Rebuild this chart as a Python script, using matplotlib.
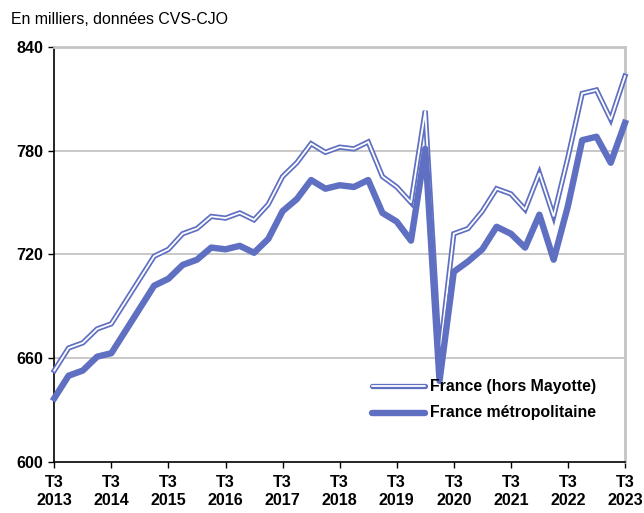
import matplotlib
matplotlib.use("Agg")
import matplotlib.pyplot as plt
from matplotlib.lines import Line2D

plt.rcParams['font.family'] = ['Liberation Sans', 'DejaVu Sans']

quarters = list(range(41))  # T3 2013 .. T3 2023
france_hors_mayotte = [653, 666, 669, 677, 680, 693, 706, 719, 723, 732, 735, 742, 741, 744, 740, 749,
                       765, 773, 784, 779, 782, 781, 785, 765, 759, 750, 803, 661, 732, 735, 745, 758,
                       755, 746, 767, 742, 776, 813, 815, 798, 823]
france_metro = [637, 650, 653, 661, 663, 676, 689, 702, 706, 714, 717, 724, 723, 725, 721, 729,
                745, 752, 763, 758, 760, 759, 763, 744, 739, 728, 781, 647, 710, 716, 723, 736,
                732, 724, 743, 717, 748, 786, 788, 773, 796]
tick_labels = [f"T3\n{y}" for y in range(2013, 2024)]
y_ticks = [600, 660, 720, 780, 840]
color = '#5F6FC1'

fig = plt.figure(figsize=(6.44, 5.13), dpi=100)
ax = fig.add_axes([0.0843, 0.0988, 0.8862, 0.8102])

ax.set_xlim(0, 40)
ax.set_ylim(600, 840)
ax.set_yticks(y_ticks)
ax.set_yticklabels([str(v) for v in y_ticks], fontsize=11.6, fontweight='bold')
ax.set_xticks(range(0, 41, 4))
ax.set_xticklabels(tick_labels, fontsize=11.6, fontweight='bold', linespacing=1.25)
ax.tick_params(axis='both', direction='out', length=4, width=1, color='black')
ax.tick_params(axis='x', pad=5)
ax.tick_params(axis='y', pad=4)

for v in [660, 720, 780]:
    ax.axhline(v, color='#C4C4C4', lw=1.3, zorder=0)
for s in ['top', 'right']:
    ax.spines[s].set_color('#C4C4C4')
    ax.spines[s].set_linewidth(2)
for s in ['left', 'bottom']:
    ax.spines[s].set_color('black')
    ax.spines[s].set_linewidth(1.2)

# double line (France hors Mayotte)
ax.plot(quarters, france_hors_mayotte, color=color, lw=3.8, solid_joinstyle='miter', zorder=3, clip_on=False)
ax.plot(quarters, france_hors_mayotte, color='white', lw=1.3, solid_joinstyle='miter', zorder=4, clip_on=False)
# thick line (France metropolitaine)
ax.plot(quarters, france_metro, color=color, lw=4.6, solid_joinstyle='round', zorder=5, clip_on=False)

fig.text(0.0171, 0.962, "En milliers, données CVS-CJO", fontsize=11.4, va='center', ha='left')

lx0, lx1 = 372 / 644, 425 / 644
for yy, lbl, kind in [(386, "France (hors Mayotte)", 'double'), (413, "France métropolitaine", 'thick')]:
    yf = 1 - yy / 513
    if kind == 'double':
        fig.add_artist(Line2D([lx0, lx1], [yf, yf], color=color, lw=3.8, solid_capstyle='round'))
        fig.add_artist(Line2D([lx0, lx1], [yf, yf], color='white', lw=1.3, solid_capstyle='round'))
    else:
        fig.add_artist(Line2D([lx0, lx1], [yf, yf], color=color, lw=4.6, solid_capstyle='round'))
    fig.text(430 / 644, yf, lbl, fontsize=11.4, fontweight='bold', va='center', ha='left')

fig.savefig("out.png", dpi=100)
